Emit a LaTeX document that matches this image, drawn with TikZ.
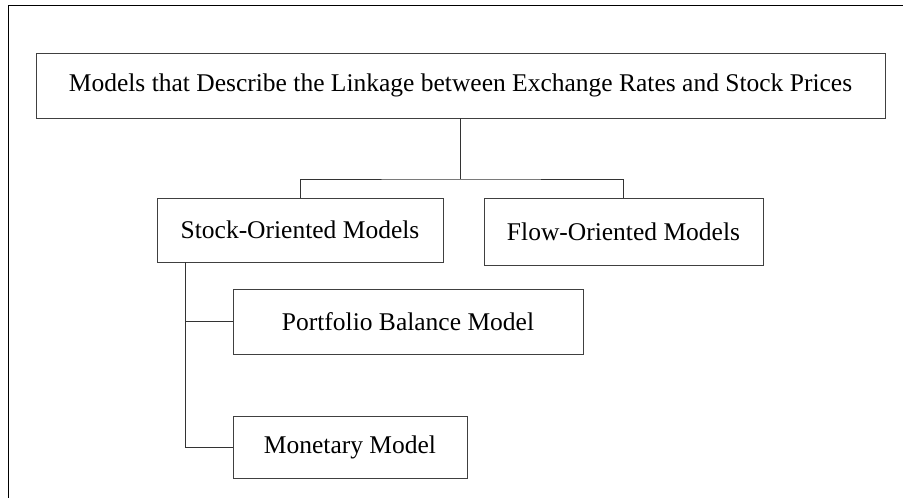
\documentclass[tikz,border=0pt]{standalone}
\usepackage{fontspec}
\setmainfont{Liberation Serif}
\begin{document}
\begin{tikzpicture}[x=1pt,y=-1pt,
  box/.style={draw=black!75, line width=0.9pt, fill=white, inner sep=0pt, font=\fontsize{25.5}{28}\selectfont},
  link/.style={draw=black!80, line width=0.9pt}]
\useasboundingbox (0,0) rectangle (903,498);
% outer frame (top and left only)
\draw[line width=1pt] (903,5) -- (8,5) -- (8,498);
\node[box, minimum width=849pt, minimum height=65pt] (top) at (460.5,85.5) {Models that Describe the Linkage between Exchange Rates and Stock Prices};
\node[box, minimum width=286pt, minimum height=64pt] (stock) at (300,230) {Stock-Oriented Models};
\node[box, minimum width=279pt, minimum height=67pt] (flow) at (623.5,231.5) {Flow-Oriented Models};
\node[box, minimum width=350pt, minimum height=65pt] (port) at (408,321.5) {Portfolio Balance Model};
\node[box, minimum width=234pt, minimum height=62pt] (mon) at (350,447) {Monetary Model};
\coordinate (j) at (460.5,179);
\draw[link] (top.south) -- (j);
\draw[link] (stock.north) |- (j) -| (flow.north);
\coordinate (s) at (185,0);
\draw[link] (stock.south -| s) |- (mon.west);
\draw[link] (port.west) -- (port.west -| s);
\end{tikzpicture}
\end{document}
